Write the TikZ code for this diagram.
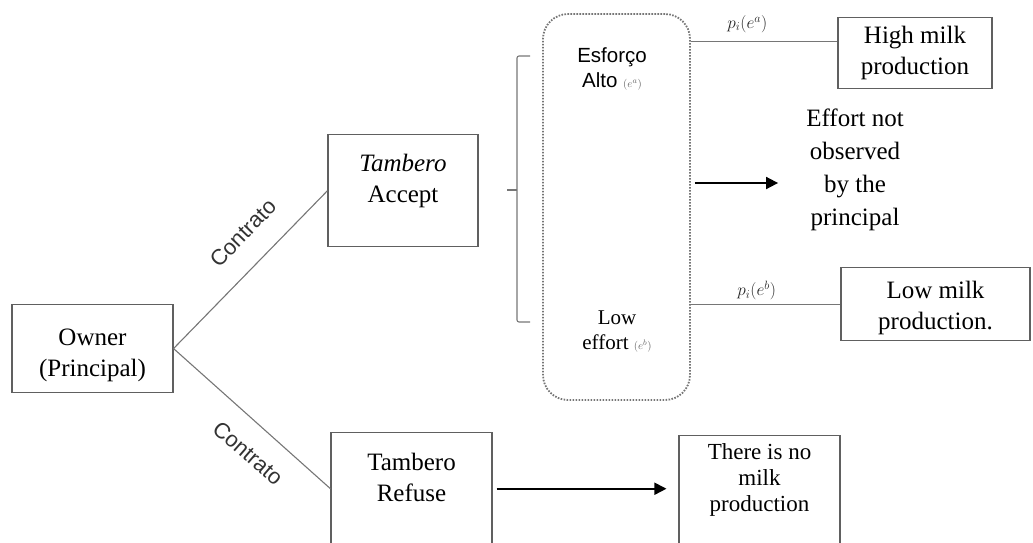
\documentclass[tikz,border=0pt]{standalone}
\usepackage{fontspec}
\setmainfont{Liberation Serif}
\setsansfont{Liberation Sans}
\usetikzlibrary{arrows.meta,calc}

\definecolor{boxline}{RGB}{96,96,96}
\definecolor{linegray}{RGB}{118,118,118}

\tikzset{
  box/.style={draw=boxline, line width=1.1pt, anchor=north, align=center, inner xsep=0pt, font=\fontsize{25}{31}\selectfont},
  wire/.style={draw=linegray, line width=1.1pt},
  arr/.style={line width=1.8pt, -{Triangle[length=12pt,width=12pt]}},
  lab/.style={font=\sffamily\fontsize{22}{22}\selectfont, text=black!80},
  plab/.style={font=\fontsize{17}{17}\selectfont, text=black!85},
  dotbox/.style={draw=linegray, line width=1.8pt, dash pattern=on 1.6pt off 1.4pt, rounded corners=25pt},
}

\begin{document}
\begin{tikzpicture}[x=1pt,y=1pt,yscale=-1,xscale=1]
\useasboundingbox (0,0) rectangle (1033,543);

%Shape: Rectangle [owner]
\node[box, minimum width=161pt, inner ysep=16pt, text height=56pt, text depth=0pt] (owner) at (92.5,304) {Owner\\(Principal)};
%Shape: Rectangle [accept]
\node[box, minimum width=150pt, inner ysep=20pt, text depth=24pt] (accept) at (403,134) {\textit{Tambero}\\Accept};
%Shape: Rectangle [refuse]
\node[box, minimum width=161pt, inner ysep=21pt, text depth=22pt] (refuse) at (411.5,432) {Tambero\\Refuse};
%Shape: Rectangle [high]
\node[box, minimum width=154pt, inner ysep=8.5pt, text depth=5.5pt] (high) at (915,17) {High milk\\production};
%Shape: Rectangle [low]
\node[box, minimum width=189pt, inner ysep=11pt, text height=51pt, text depth=0pt] (low) at (935.5,267) {Low milk\\production.};
%Shape: Rectangle [noprod]
\node[box, minimum width=161pt, inner ysep=8pt, text depth=26pt, font=\fontsize{23}{26}\selectfont] (noprod) at (759.5,435) {There is no\\milk\\production};

%Shape: Rounded Rect [effort]
\node[dotbox, minimum width=147pt, minimum height=386pt] (effort) at (616.5,207) {};
\node[font=\sffamily\fontsize{20.5}{25}\selectfont, align=center, inner sep=0pt] (hieff) at (612,69) {Esforço\\Alto {\fontsize{11}{11}\selectfont\color{black!60}$(e^a)$}};
\node[font=\fontsize{21}{25}\selectfont, align=center, inner sep=0pt] (loeff) at (617,331) {Low\\effort {\fontsize{11}{11}\selectfont\color{black!60}$(e^b)$}};

%Text Node [notobs]
\node[font=\fontsize{25}{33}\selectfont, align=center, inner sep=0pt] (notobs) at (855,170) {Effort not\\observed\\by the\\principal};

%Shape: Bracket
\draw[wire, rounded corners=2pt] (530,56) -- (517,56) -- (517,322) -- (530,322);
\draw[wire] (517,190) -- (507,190);

%Straight Lines [owner -- accept / refuse]
\draw[wire] (owner.east) -- (accept.west);
\draw[wire] (owner.east) -- (refuse.west);
\node[lab, rotate=46] (contup) at (243,233) {Contrato};
\node[lab, rotate=-41] (contdown) at (248,453) {Contrato};

%Straight Lines [effort -- high / low]
\coordinate (hiin) at ($(high.west)+(0,-11.5)$);
\draw[wire] (hiin -| effort.east) -- (hiin) node[plab, pos=0.385, above=5pt] {$p_i(e^a)$};
\draw[wire] (effort.east |- low.west) -- (low.west) node[plab, pos=0.44, above] {$p_i(e^b)$};

%Arrows
\coordinate (obsin) at ($(notobs.west)+(-28,13)$);
\draw[arr, shorten <=4pt] (obsin -| effort.east) -- (obsin);
\draw[arr, shorten <=4pt, shorten >=12pt] (refuse.east) -- (refuse.east -| noprod.west);

\end{tikzpicture}
\end{document}
